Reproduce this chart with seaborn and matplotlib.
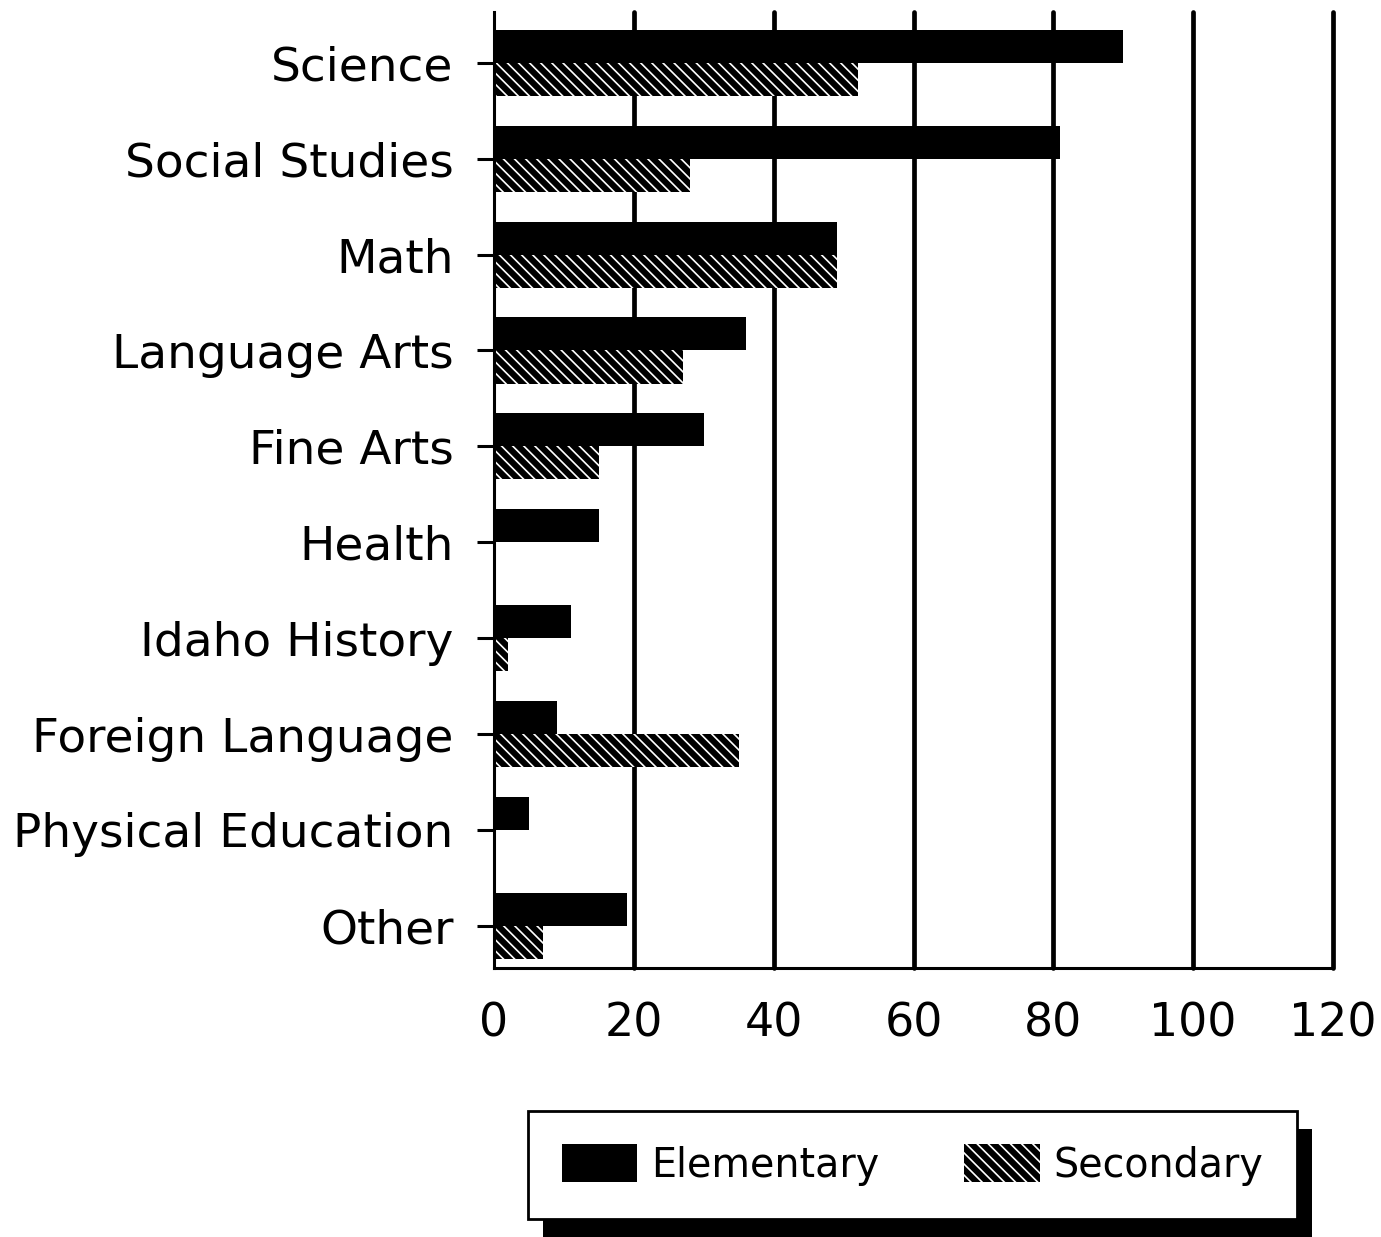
import matplotlib
matplotlib.use("Agg")
import matplotlib.pyplot as plt
from matplotlib.patches import Patch, Rectangle
import seaborn as sns
import pandas as pd

subjects = ["Science", "Social Studies", "Math", "Language Arts", "Fine Arts",
            "Health", "Idaho History", "Foreign Language", "Physical Education", "Other"]
elementary = [90, 81, 49, 36, 30, 15, 11, 9, 5, 19]
secondary = [52, 28, 49, 27, 15, 0, 2, 35, 0, 7]
levels = ["Elementary", "Secondary"]
xticks = [0, 20, 40, 60, 80, 100, 120]

df = pd.DataFrame({
    "Subject": subjects * 2,
    "Value": elementary + secondary,
    "Level": [levels[0]] * len(subjects) + [levels[1]] * len(subjects),
})

sns.set_style("white")
plt.rcParams["font.family"] = ["DejaVu Sans"]
plt.rcParams["text.color"] = "black"
plt.rcParams["hatch.linewidth"] = 1.2

W, H = 1381, 1237
fig = plt.figure(figsize=(W / 100, H / 100), dpi=100)
ax = fig.add_axes([494 / W, 1 - 968 / H, (1333 - 494) / W, (968 - 12) / H])

sns.barplot(data=df, y="Subject", x="Value", hue="Level", order=subjects,
            hue_order=levels, orient="h", palette=["black", "black"],
            saturation=1, width=0.69, dodge=True, legend=False, ax=ax, zorder=3)

HATCH = "\\\\\\"
for p in ax.containers[1]:
    p.set_hatch(HATCH)
    p.set_edgecolor("white")
    p.set_linewidth(0)
for p in ax.containers[0]:
    p.set_linewidth(0)

ax.set_xlim(0, 120)
ax.set_ylim(9.44, -0.53)
ax.set_xticks(xticks)
ax.set_xticklabels([str(v) for v in xticks])
ax.set_xlabel("")
ax.set_ylabel("")

for v in xticks[1:]:
    ax.axvline(v, color="black", lw=3.4, zorder=1, clip_on=False)

for s in ["top", "right"]:
    ax.spines[s].set_visible(False)
for s in ["left", "bottom"]:
    ax.spines[s].set_color("black")
    ax.spines[s].set_linewidth(2.2)
    ax.spines[s].set_zorder(4)

ax.tick_params(axis="y", length=12, width=2.2, pad=17, labelsize=33.8, colors="black", left=True)
ax.tick_params(axis="x", length=0, pad=24, labelsize=33, colors="black")

handles = [Patch(facecolor="black", edgecolor="black", linewidth=0),
           Patch(facecolor="black", edgecolor="white", hatch=HATCH, linewidth=0)]
leg = fig.legend(handles, levels, loc="center",
                 bbox_to_anchor=(528 / W, 1 - 1220 / H, (1297 - 528) / W, 110 / H),
                 mode="expand", ncol=2, frameon=True, fancybox=False,
                 fontsize=28.5, borderpad=0.85, borderaxespad=0, handlelength=1.9,
                 handleheight=1.1, handletextpad=0.35, columnspacing=2.0,
                 labelcolor="black")
fr = leg.get_frame()
fr.set_edgecolor("black")
fr.set_linewidth(2)
fr.set_facecolor("white")
fr.set_alpha(1)
leg.set_zorder(5)

fig.canvas.draw()
bb = leg.get_window_extent()
inv = fig.transFigure.inverted()
(x0, y0) = inv.transform((bb.x0 + 15, bb.y0 - 18))
(x1, y1) = inv.transform((bb.x1 + 15, bb.y1 - 18))
fig.patches.append(Rectangle((x0, y0), x1 - x0, y1 - y0, transform=fig.transFigure,
                             facecolor="black", edgecolor="none", zorder=1))

fig.savefig("out.png", dpi=100)
